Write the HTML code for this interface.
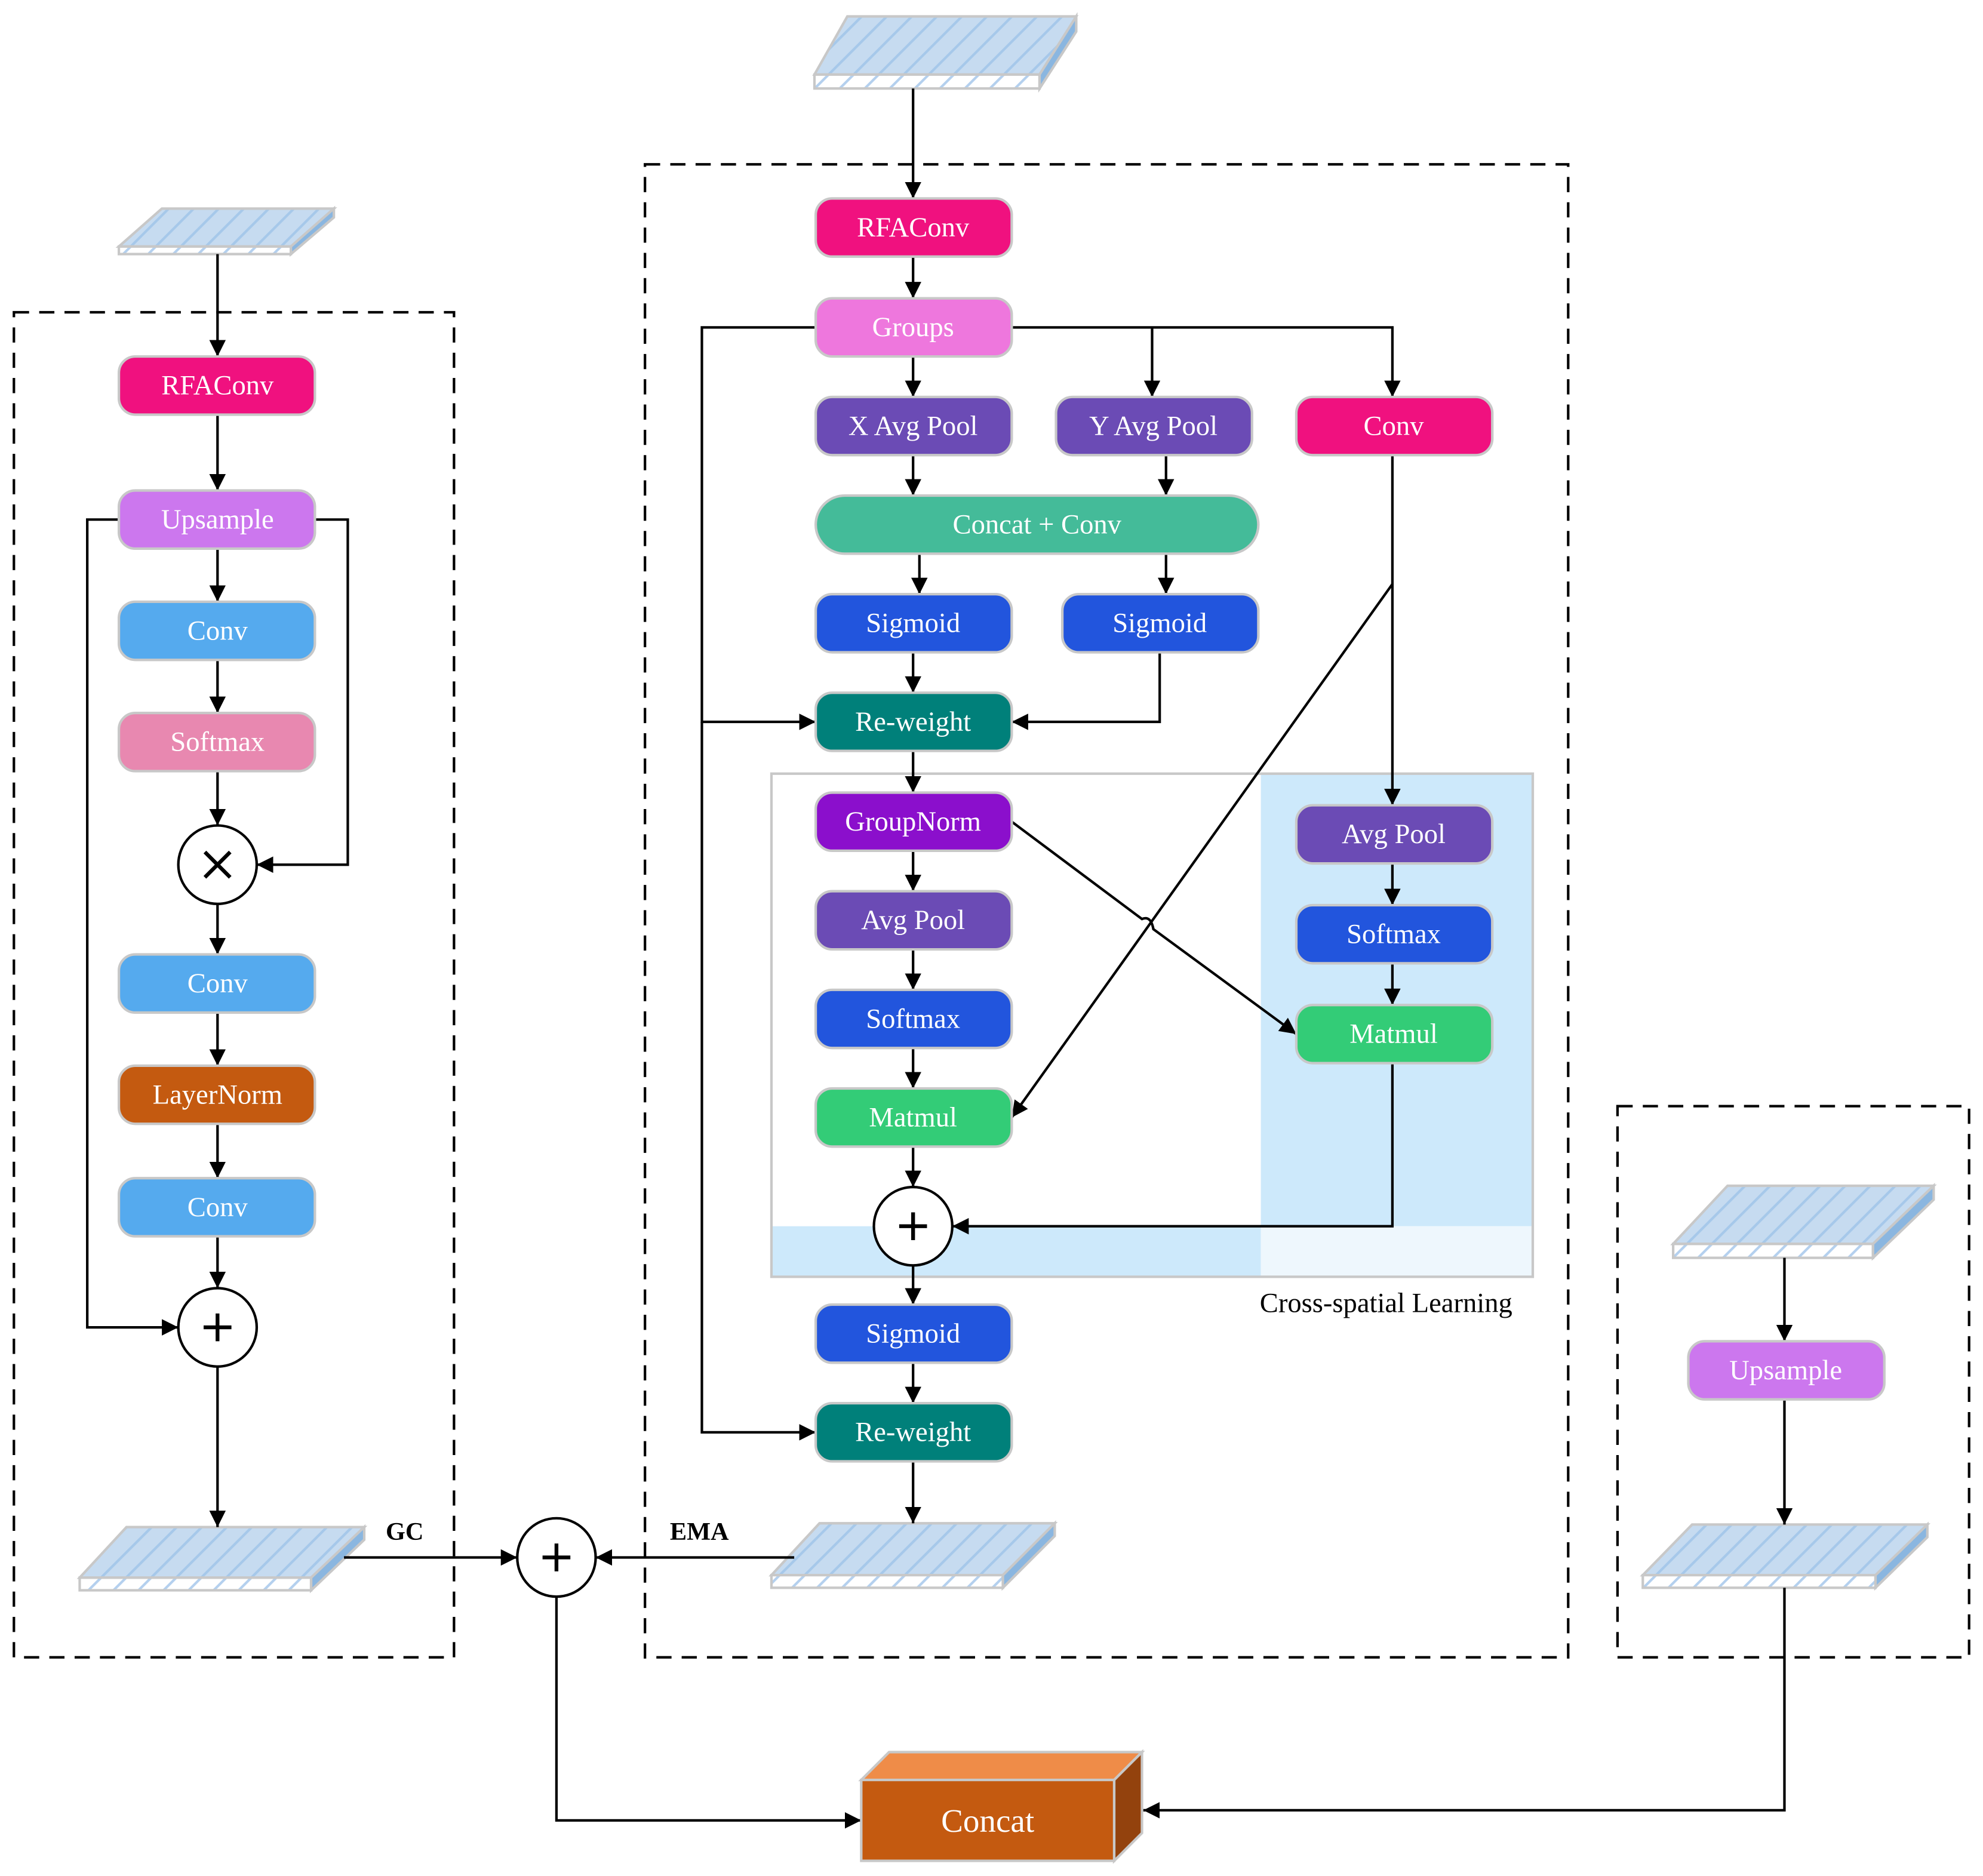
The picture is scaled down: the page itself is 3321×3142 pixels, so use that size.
<!DOCTYPE html>
<html><head><meta charset="utf-8"><style>html,body{margin:0;padding:0;background:#fff}svg{display:block}</style></head><body>
<svg width="3321" height="3142" viewBox="0 0 1568 1484" preserveAspectRatio="none" xmlns="http://www.w3.org/2000/svg" font-family="'Liberation Serif', serif">
<defs>
<marker id="b" viewBox="0 0 10 10" refX="10" refY="5" markerWidth="13" markerHeight="13" markerUnits="userSpaceOnUse" orient="auto"><path d="M0,0L10,5L0,10z" fill="#000"/></marker>
<pattern id="st" width="14" height="14" patternUnits="userSpaceOnUse" patternTransform="rotate(45)"><rect width="14" height="14" fill="#c6dbf0"/><rect width="2" height="14" fill="#a6c8ea"/></pattern>
<pattern id="sf" width="14" height="14" patternUnits="userSpaceOnUse" patternTransform="rotate(45)"><rect width="14" height="14" fill="#fff"/><rect width="2" height="14" fill="#b4d0ee"/></pattern>
</defs>
<rect width="1568" height="1484" fill="#fff"/>
<g fill="none" stroke="#000" stroke-width="2" stroke-dasharray="12,8">
<rect x="11" y="247" width="348" height="1064"/>
<rect x="510" y="130" width="730" height="1181"/>
<rect x="1279" y="875" width="278" height="436"/>
</g>
<rect x="997" y="612" width="215" height="358" fill="#cde9fb"/>
<rect x="610" y="970" width="387" height="40" fill="#cde9fb"/>
<rect x="997" y="970" width="215" height="40" fill="#eef7fd"/>
<rect x="610" y="612" width="602" height="398" fill="none" stroke="#c8c8c8" stroke-width="2"/>
<text x="1096" y="1038" font-size="22" text-anchor="middle">Cross-spatial Learning</text>
<g stroke="#c8c8c8" stroke-width="2">
<polygon points="94,195 128,165 264,165 230,195" fill="url(#st)"/><rect x="94" y="195" width="136" height="6" fill="url(#sf)"/><polygon points="230,195 264,165 264,172 230,201" fill="#8ab6e0"/>
<polygon points="644,59 670,13 851,13 822,59" fill="url(#st)"/><rect x="644" y="59" width="178" height="11" fill="url(#sf)"/><polygon points="822,59 851,13 851,25 822,70" fill="#8ab6e0"/>
<polygon points="63,1248 100,1208 288,1208 246,1248" fill="url(#st)"/><rect x="63" y="1248" width="183" height="10" fill="url(#sf)"/><polygon points="246,1248 288,1208 288,1218 246,1258" fill="#8ab6e0"/>
<polygon points="610,1246 648,1205 834,1205 793,1246" fill="url(#st)"/><rect x="610" y="1246" width="183" height="10" fill="url(#sf)"/><polygon points="793,1246 834,1205 834,1215 793,1256" fill="#8ab6e0"/>
<polygon points="1323,984 1366,938 1529,938 1481,984" fill="url(#st)"/><rect x="1323" y="984" width="158" height="11" fill="url(#sf)"/><polygon points="1481,984 1529,938 1529,949 1481,995" fill="#8ab6e0"/>
<polygon points="1299,1246 1338,1206 1524,1206 1483,1246" fill="url(#st)"/><rect x="1299" y="1246" width="184" height="10" fill="url(#sf)"/><polygon points="1483,1246 1524,1206 1524,1216 1483,1256" fill="#8ab6e0"/>
</g>
<g fill="none" stroke="#000" stroke-width="2" marker-end="url(#b)">
<path d="M172,201V282"/><path d="M172,328V388"/><path d="M172,434V476"/><path d="M172,522V564"/><path d="M172,610V653"/><path d="M172,715V755"/><path d="M172,801V843"/><path d="M172,889V932"/><path d="M172,978V1019"/><path d="M172,1081V1208"/>
<path d="M95,411H69V1050H141"/><path d="M249,411H275V684H203"/>
<path d="M272,1232H409"/><path d="M628,1232H471"/>
<path d="M440,1263V1440H681"/><path d="M1411,1256V1432H904"/>
<path d="M1411,995V1061"/><path d="M1411,1107V1206"/>
<path d="M722,70V157"/><path d="M722,203V236"/><path d="M722,282V314"/>
<path d="M800,259H1101V314"/><path d="M911,259V314"/>
<path d="M645,259H555V571H645"/><path d="M555,571V1133H645"/>
<path d="M722,360V392"/><path d="M922,360V392"/><path d="M727,438V470"/><path d="M922,438V470"/>
<path d="M722,516V548"/><path d="M917,516V571H800"/>
<path d="M722,594V627"/><path d="M722,673V705"/><path d="M722,751V783"/><path d="M722,829V861"/><path d="M722,907V939"/>
<path d="M722,1001V1032"/><path d="M722,1078V1110"/><path d="M722,1156V1205"/>
<path d="M1101,360V637"/><path d="M1101,462L800,884"/>
<path d="M800,650L903,727Q910,724 912,735L1025,818"/>
<path d="M1101,683V716"/><path d="M1101,762V795"/><path d="M1101,841V970H753"/>
</g>
<g fill="#fff" stroke="#000" stroke-width="2">
<circle cx="172" cy="684" r="31"/><circle cx="172" cy="1050" r="31"/><circle cx="722" cy="970" r="31"/><circle cx="440" cy="1232" r="31"/>
</g>
<g stroke="#000" stroke-width="3">
<path d="M162,674L182,694M182,674L162,694"/>
<path d="M161,1050H183M172,1039V1061"/><path d="M711,970H733M722,959V981"/><path d="M429,1232H451M440,1221V1243"/>
</g>
<g stroke="#c8c8c8" stroke-width="2">
<rect x="94" y="282" width="155" height="46" rx="13" fill="#f0117f"/>
<rect x="94" y="388" width="155" height="46" rx="13" fill="#cc77ee"/>
<rect x="94" y="476" width="155" height="46" rx="13" fill="#55aaee"/>
<rect x="94" y="564" width="155" height="46" rx="13" fill="#e888b0"/>
<rect x="94" y="755" width="155" height="46" rx="13" fill="#55aaee"/>
<rect x="94" y="843" width="155" height="46" rx="13" fill="#c45a10"/>
<rect x="94" y="932" width="155" height="46" rx="13" fill="#55aaee"/>
<rect x="645" y="157" width="155" height="46" rx="13" fill="#f0117f"/>
<rect x="645" y="236" width="155" height="46" rx="13" fill="#ee77dd"/>
<rect x="645" y="314" width="155" height="46" rx="13" fill="#6b4bb5"/>
<rect x="835" y="314" width="155" height="46" rx="13" fill="#6b4bb5"/>
<rect x="1025" y="314" width="155" height="46" rx="13" fill="#f0117f"/>
<rect x="645" y="392" width="350" height="46" rx="23" fill="#44bb99"/>
<rect x="645" y="470" width="155" height="46" rx="13" fill="#2255dd"/>
<rect x="840" y="470" width="155" height="46" rx="13" fill="#2255dd"/>
<rect x="645" y="548" width="155" height="46" rx="13" fill="#00807a"/>
<rect x="645" y="627" width="155" height="46" rx="13" fill="#8b0fcc"/>
<rect x="645" y="705" width="155" height="46" rx="13" fill="#6b4bb5"/>
<rect x="645" y="783" width="155" height="46" rx="13" fill="#2255dd"/>
<rect x="645" y="861" width="155" height="46" rx="13" fill="#33cc77"/>
<rect x="1025" y="637" width="155" height="46" rx="13" fill="#6b4bb5"/>
<rect x="1025" y="716" width="155" height="46" rx="13" fill="#2255dd"/>
<rect x="1025" y="795" width="155" height="46" rx="13" fill="#33cc77"/>
<rect x="645" y="1032" width="155" height="46" rx="13" fill="#2255dd"/>
<rect x="645" y="1110" width="155" height="46" rx="13" fill="#00807a"/>
<rect x="1335" y="1061" width="155" height="46" rx="13" fill="#cc77ee"/>
<polygon points="681,1408 703,1386 903,1386 881,1408" fill="#ef8c48"/>
<polygon points="881,1408 903,1386 903,1450 881,1472" fill="#93420d"/>
<rect x="681" y="1408" width="200" height="64" fill="#c45a10"/>
</g>
<g fill="#fff" font-size="22" text-anchor="middle">
<text x="172" y="312">RFAConv</text><text x="172" y="418">Upsample</text><text x="172" y="506">Conv</text><text x="172" y="594">Softmax</text><text x="172" y="785">Conv</text><text x="172" y="873">LayerNorm</text><text x="172" y="962">Conv</text>
<text x="722" y="187">RFAConv</text><text x="722" y="266">Groups</text><text x="722" y="344">X Avg Pool</text><text x="912" y="344">Y Avg Pool</text><text x="1102" y="344">Conv</text>
<text x="820" y="422">Concat + Conv</text><text x="722" y="500">Sigmoid</text><text x="917" y="500">Sigmoid</text><text x="722" y="578">Re-weight</text>
<text x="722" y="657">GroupNorm</text><text x="722" y="735">Avg Pool</text><text x="722" y="813">Softmax</text><text x="722" y="891">Matmul</text>
<text x="1102" y="667">Avg Pool</text><text x="1102" y="746">Softmax</text><text x="1102" y="825">Matmul</text>
<text x="722" y="1062">Sigmoid</text><text x="722" y="1140">Re-weight</text><text x="1412" y="1091">Upsample</text>
<text x="781" y="1449" font-size="26">Concat</text>
</g>
<g font-size="20" font-weight="bold" text-anchor="middle"><text x="320" y="1218">GC</text><text x="553" y="1218">EMA</text></g>
</svg>
</body></html>
